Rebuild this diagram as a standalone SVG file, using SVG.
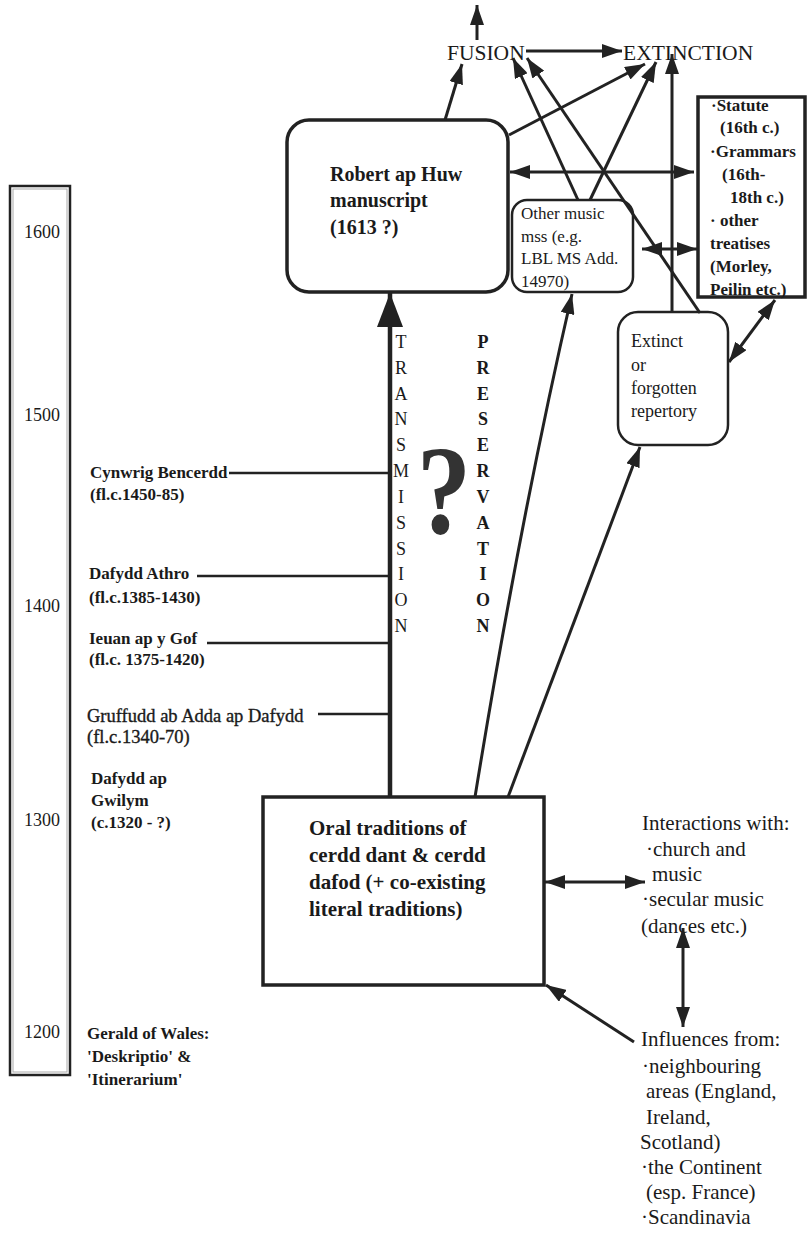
<svg xmlns="http://www.w3.org/2000/svg" width="808" height="1233" viewBox="0 0 808 1233">
  <style>
    text { font-family: "Liberation Serif", "Times New Roman", serif; fill: #1a1a1a; }
    .b { font-weight: bold; }
    .yr { font-size: 18px; }
    .lab { font-size: 17px; font-weight: bold; }
    .box { fill: #ffffff; stroke: #222; }
    .ln { fill: none; stroke: #222; stroke-width: 3; }
    .thin { fill: none; stroke: #222; stroke-width: 2.5; }
    .cap { font-size: 21.5px; }
    .vert { font-size: 18px; text-anchor: middle; }
    .note { font-size: 21px; }
  </style>
  <defs>
    <marker id="ah" markerUnits="userSpaceOnUse" markerWidth="20" markerHeight="14" refX="20" refY="7" orient="auto-start-reverse">
      <path d="M0,0 L20,7 L0,14 z" fill="#222"/>
    </marker>
    <marker id="ahBig" markerUnits="userSpaceOnUse" markerWidth="34" markerHeight="26" refX="34" refY="13" orient="auto">
      <path d="M0,0 L34,13 L0,26 z" fill="#222"/>
    </marker>
  </defs>
  <rect width="808" height="1233" fill="#ffffff"/>

  <!-- time scale -->
  <g id="timeline">
    <rect x="10" y="186" width="60" height="889" fill="none" stroke="#222" stroke-width="2.5"/>
    <rect x="13" y="189" width="54" height="883" fill="none" stroke="#aaa" stroke-width="1"/>
    <text class="yr" x="24" y="238">1600</text>
    <text class="yr" x="24" y="421">1500</text>
    <text class="yr" x="24" y="612">1400</text>
    <text class="yr" x="24" y="826">1300</text>
    <text class="yr" x="24" y="1038">1200</text>
  </g>

  <!-- poets and sources along the time scale -->
  <g id="cynwrig">
    <text class="lab" x="90" y="478">Cynwrig Bencerdd</text>
    <text class="lab" x="90" y="500">(fl.c.1450-85)</text>
  </g>
  <g id="dafydd-athro">
    <text class="lab" x="89" y="579">Dafydd Athro</text>
    <text class="lab" x="89" y="603">(fl.c.1385-1430)</text>
  </g>
  <g id="ieuan">
    <text class="lab" x="89" y="644">Ieuan ap y Gof</text>
    <text class="lab" x="89" y="665">(fl.c. 1375-1420)</text>
  </g>
  <g id="gruffudd">
    <text x="87" y="722" font-size="18.5" stroke="#1a1a1a" stroke-width="0.35">Gruffudd ab Adda ap Dafydd</text>
    <text x="87" y="743" font-size="18.5" stroke="#1a1a1a" stroke-width="0.35">(fl.c.1340-70)</text>
  </g>
  <g id="dafydd-ap-gwilym">
    <text class="lab" x="91" y="784">Dafydd ap</text>
    <text class="lab" x="91" y="806">Gwilym</text>
    <text class="lab" x="91" y="828">(c.1320 - ?)</text>
  </g>
  <g id="gerald">
    <text class="lab" x="87" y="1039">Gerald of Wales:</text>
    <text class="lab" x="87" y="1062">'Deskriptio' &amp;</text>
    <text class="lab" x="87" y="1085">'Itinerarium'</text>
  </g>

  <!-- outcomes at the top -->
  <g id="fusion">
    <text class="cap" x="447" y="60">FUSION</text>
  </g>
  <g id="extinction">
    <text class="cap" x="623" y="60">EXTINCTION</text>
  </g>

  <!-- main nodes -->
  <g id="robert-ap-huw">
    <rect class="box" x="287" y="120" width="221" height="172" rx="22" stroke-width="3.5"/>
    <text class="b" x="330" y="181" font-size="20">Robert ap Huw</text>
    <text class="b" x="330" y="207" font-size="20">manuscript</text>
    <text class="b" x="330" y="234" font-size="20">(1613 ?)</text>
  </g>
  <g id="other-mss">
    <rect class="box" x="512" y="200" width="121" height="92" rx="15" stroke-width="2.5"/>
    <text x="521" y="219" font-size="17">Other music</text>
    <text x="521" y="242" font-size="17">mss (e.g.</text>
    <text x="521" y="264" font-size="17">LBL MS Add.</text>
    <text x="521" y="287" font-size="17">14970)</text>
  </g>
  <g id="treatises">
    <rect class="box" x="698" y="97" width="107" height="200" stroke-width="3.5"/>
    <text class="b" x="711" y="111" font-size="17">·Statute</text>
    <text class="b" x="720" y="133" font-size="17">(16th c.)</text>
    <text class="b" x="710" y="157" font-size="17">·Grammars</text>
    <text class="b" x="722" y="180" font-size="17">(16th-</text>
    <text class="b" x="730" y="203" font-size="17">18th c.)</text>
    <text class="b" x="710" y="226" font-size="17">· other</text>
    <text class="b" x="710" y="249" font-size="17">treatises</text>
    <text class="b" x="710" y="272" font-size="17">(Morley,</text>
    <text class="b" x="710" y="295" font-size="17">Peilin etc.)</text>
  </g>
  <g id="extinct">
    <rect class="box" x="618" y="312" width="110" height="133" rx="20" stroke-width="2.5"/>
    <text x="631" y="347" font-size="18">Extinct</text>
    <text x="631" y="371" font-size="18">or</text>
    <text x="631" y="394" font-size="18">forgotten</text>
    <text x="631" y="417" font-size="18">repertory</text>
  </g>
  <g id="oral-traditions">
    <rect class="box" x="263" y="797" width="281" height="188" stroke-width="3.5"/>
    <text class="b" x="309" y="835" font-size="21">Oral traditions of</text>
    <text class="b" x="309" y="862" font-size="21">cerdd dant &amp; cerdd</text>
    <text class="b" x="309" y="889" font-size="21">dafod (+ co-existing</text>
    <text class="b" x="309" y="916" font-size="21">literal traditions)</text>
  </g>
  <g id="interactions">
    <text class="note" x="642" y="830">Interactions with:</text>
    <text class="note" x="646" y="856">·church and</text>
    <text class="note" x="652" y="881">music</text>
    <text class="note" x="642" y="906">·secular music</text>
    <text class="note" x="641" y="933">(dances etc.)</text>
  </g>
  <g id="influences">
    <text class="note" x="641" y="1046">Influences from:</text>
    <text class="note" x="642" y="1073">·neighbouring</text>
    <text class="note" x="646" y="1098">areas (England,</text>
    <text class="note" x="646" y="1124">Ireland,</text>
    <text class="note" x="640" y="1149">Scotland)</text>
    <text class="note" x="641" y="1174">·the Continent</text>
    <text class="note" x="646" y="1199">(esp. France)</text>
    <text class="note" x="641" y="1224">·Scandinavia</text>
  </g>

  <!-- connectors -->
  <g id="connectors">
    <!-- transmission spine -->
    <line x1="390" y1="797" x2="390" y2="293" stroke="#222" stroke-width="4.5" marker-end="url(#ahBig)"/>
    <!-- poets tied to the spine -->
    <line class="thin" x1="229" y1="473" x2="390" y2="473"/>
    <line class="thin" x1="197" y1="576" x2="390" y2="576"/>
    <line class="thin" x1="207" y1="643" x2="390" y2="643"/>
    <line class="thin" x1="318" y1="714" x2="390" y2="714"/>

    <!-- towards fusion / extinction -->
    <line class="ln" x1="477" y1="40" x2="477" y2="5" marker-end="url(#ah)"/>
    <line class="ln" x1="526" y1="51" x2="622" y2="51" marker-end="url(#ah)"/>
    <line class="ln" x1="445" y1="120" x2="462" y2="64" marker-end="url(#ah)"/>
    <line class="ln" x1="578" y1="200" x2="513" y2="58" marker-end="url(#ah)"/>
    <line class="ln" x1="700" y1="313" x2="527" y2="58" marker-end="url(#ah)"/>
    <line class="ln" x1="509" y1="135" x2="645" y2="64" marker-end="url(#ah)"/>
    <line class="ln" x1="590" y1="200" x2="656" y2="62" marker-end="url(#ah)"/>
    <line class="ln" x1="672" y1="312" x2="672" y2="54" marker-end="url(#ah)"/>

    <!-- exchanges with the treatises -->
    <line class="ln" x1="510" y1="172" x2="694" y2="172" marker-start="url(#ah)" marker-end="url(#ah)"/>
    <line class="ln" x1="642" y1="249" x2="697" y2="249" marker-start="url(#ah)" marker-end="url(#ah)"/>
    <line class="ln" x1="729" y1="362" x2="775" y2="300" marker-start="url(#ah)" marker-end="url(#ah)"/>

    <!-- preservation from the oral traditions -->
    <path class="ln" d="M475,797 Q520,520 572,294" marker-end="url(#ah)"/>
    <line class="ln" x1="508" y1="797" x2="640" y2="447" marker-end="url(#ah)"/>

    <!-- outside contacts -->
    <line class="ln" x1="545" y1="882" x2="645" y2="882" marker-start="url(#ah)" marker-end="url(#ah)"/>
    <line class="ln" x1="683" y1="928" x2="683" y2="1027" marker-start="url(#ah)" marker-end="url(#ah)"/>
    <line class="ln" x1="634" y1="1042" x2="546" y2="985" marker-end="url(#ah)"/>
  </g>

  <!-- vertical labels -->
  <g id="transmission">
    <text class="vert" x="401" y="348">T</text>
    <text class="vert" x="401" y="374">R</text>
    <text class="vert" x="401" y="400">A</text>
    <text class="vert" x="401" y="425">N</text>
    <text class="vert" x="401" y="451">S</text>
    <text class="vert" x="401" y="477">M</text>
    <text class="vert" x="401" y="503">I</text>
    <text class="vert" x="401" y="529">S</text>
    <text class="vert" x="401" y="555">S</text>
    <text class="vert" x="401" y="580">I</text>
    <text class="vert" x="401" y="606">O</text>
    <text class="vert" x="401" y="632">N</text>
  </g>
  <g id="preservation">
    <text class="vert b" x="483" y="348">P</text>
    <text class="vert b" x="483" y="374">R</text>
    <text class="vert b" x="483" y="400">E</text>
    <text class="vert b" x="483" y="425">S</text>
    <text class="vert b" x="483" y="451">E</text>
    <text class="vert b" x="483" y="477">R</text>
    <text class="vert b" x="483" y="503">V</text>
    <text class="vert b" x="483" y="529">A</text>
    <text class="vert b" x="483" y="555">T</text>
    <text class="vert b" x="483" y="580">I</text>
    <text class="vert b" x="483" y="606">O</text>
    <text class="vert b" x="483" y="632">N</text>
  </g>
  <g id="query">
    <text x="0" y="0" font-size="128" font-weight="bold" text-anchor="middle" style="fill:#333" transform="translate(444,533) scale(0.85,1)">?</text>
  </g>
</svg>
